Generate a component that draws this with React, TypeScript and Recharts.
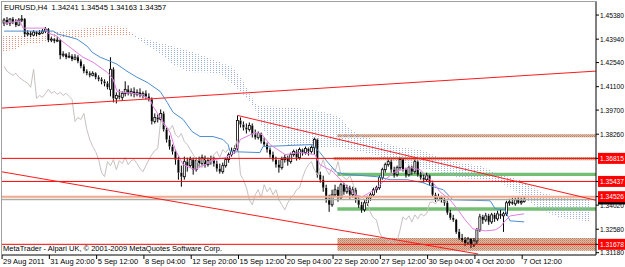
import React from "react";
import {
  ComposedChart,
  Bar,
  Line,
  Area,
  XAxis,
  YAxis,
  ReferenceLine,
  ReferenceArea,
} from "recharts";

// EURUSD H4, one entry per bar (bar 0 = 29 Aug 2011)
const open = [
  1.4490, 1.4508, 1.4490, 1.4514, 1.4496, 1.4478, 1.4508, 1.4514, 1.4424, 1.4430,
  1.4418, 1.4436, 1.4424, 1.4430, 1.4442, 1.4454, 1.4388, 1.4394, 1.4382, 1.4388,
  1.4298, 1.4304, 1.4286, 1.4292, 1.4274, 1.4286, 1.4262, 1.4232, 1.4202, 1.4190,
  1.4178, 1.4190, 1.4166, 1.4154, 1.4142, 1.4130, 1.4094, 1.4214, 1.4040, 1.4058,
  1.4046, 1.4070, 1.4094, 1.4070, 1.4082, 1.4064, 1.4076, 1.4058, 1.4070, 1.4052,
  1.4034, 1.3902, 1.3926, 1.3914, 1.3950, 1.3854, 1.3794, 1.3752, 1.3722, 1.3674,
  1.3596, 1.3572, 1.3662, 1.3638, 1.3674, 1.3614, 1.3668, 1.3650, 1.3686, 1.3644,
  1.3668, 1.3674, 1.3650, 1.3620, 1.3602, 1.3638, 1.3674, 1.3704, 1.3728, 1.3740,
  1.3908, 1.3884, 1.3866, 1.3854, 1.3878, 1.3824, 1.3806, 1.3830, 1.3782, 1.3764,
  1.3734, 1.3704, 1.3674, 1.3644, 1.3626, 1.3674, 1.3686, 1.3662, 1.3704, 1.3722,
  1.3686, 1.3734, 1.3716, 1.3740, 1.3722, 1.3746, 1.3794, 1.3584, 1.3554, 1.3506,
  1.3434, 1.3404, 1.3464, 1.3494, 1.3446, 1.3524, 1.3482, 1.3506, 1.3464, 1.3494,
  1.3434, 1.3404, 1.3374, 1.3416, 1.3446, 1.3464, 1.3494, 1.3506, 1.3566, 1.3614,
  1.3644, 1.3662, 1.3614, 1.3584, 1.3626, 1.3674, 1.3614, 1.3584, 1.3626, 1.3602,
  1.3662, 1.3584, 1.3566, 1.3554, 1.3578, 1.3536, 1.3464, 1.3434, 1.3452, 1.3434,
  1.3416, 1.3356, 1.3326, 1.3314, 1.3242, 1.3206, 1.3194, 1.3176, 1.3200, 1.3164,
  1.3188, 1.3254, 1.3332, 1.3314, 1.3338, 1.3302, 1.3344, 1.3320, 1.3350, 1.3338,
  1.3350, 1.3416, 1.3422, 1.3410, 1.3434, 1.3416, 1.34241,
];
const high = [
  1.4520, 1.4526, 1.4520, 1.4526, 1.4514, 1.4520, 1.4538, 1.4520, 1.4448, 1.4442,
  1.4448, 1.4442, 1.4448, 1.4454, 1.4466, 1.4460, 1.4406, 1.4400, 1.4406, 1.4394,
  1.4322, 1.4310, 1.4316, 1.4304, 1.4304, 1.4298, 1.4274, 1.4244, 1.4214, 1.4202,
  1.4202, 1.4196, 1.4178, 1.4166, 1.4154, 1.4142, 1.4286, 1.4226, 1.4076, 1.4094,
  1.4082, 1.4142, 1.4118, 1.4100, 1.4106, 1.4094, 1.4100, 1.4082, 1.4088, 1.4070,
  1.4046, 1.3950, 1.3944, 1.3974, 1.3962, 1.3866, 1.3818, 1.3764, 1.3734, 1.3692,
  1.3638, 1.3692, 1.3686, 1.3692, 1.3686, 1.3686, 1.3692, 1.3704, 1.3698, 1.3686,
  1.3698, 1.3692, 1.3668, 1.3650, 1.3656, 1.3686, 1.3716, 1.3746, 1.3758, 1.3938,
  1.3926, 1.3902, 1.3890, 1.3896, 1.3890, 1.3854, 1.3842, 1.3836, 1.3806, 1.3776,
  1.3746, 1.3722, 1.3692, 1.3674, 1.3692, 1.3704, 1.3698, 1.3716, 1.3734, 1.3734,
  1.3746, 1.3740, 1.3752, 1.3746, 1.3758, 1.3806, 1.3800, 1.3602, 1.3578, 1.3524,
  1.3464, 1.3494, 1.3524, 1.3512, 1.3536, 1.3536, 1.3524, 1.3518, 1.3512, 1.3506,
  1.3458, 1.3422, 1.3434, 1.3458, 1.3476, 1.3506, 1.3518, 1.3578, 1.3626, 1.3656,
  1.3674, 1.3674, 1.3632, 1.3638, 1.3686, 1.3680, 1.3626, 1.3638, 1.3638, 1.3674,
  1.3668, 1.3602, 1.3584, 1.3596, 1.3584, 1.3548, 1.3476, 1.3470, 1.3458, 1.3446,
  1.3428, 1.3374, 1.3344, 1.3320, 1.3260, 1.3230, 1.3212, 1.3212, 1.3206, 1.3206,
  1.3266, 1.3350, 1.3344, 1.3356, 1.3350, 1.3356, 1.3356, 1.3368, 1.3374, 1.3362,
  1.3428, 1.3440, 1.3446, 1.3446, 1.3452, 1.3446, 1.34545,
];
const low = [
  1.4472, 1.4478, 1.4472, 1.4484, 1.4466, 1.4472, 1.4496, 1.4406, 1.4412, 1.4406,
  1.4412, 1.4412, 1.4418, 1.4424, 1.4430, 1.4376, 1.4376, 1.4370, 1.4376, 1.4274,
  1.4286, 1.4274, 1.4280, 1.4262, 1.4268, 1.4250, 1.4220, 1.4190, 1.4178, 1.4166,
  1.4172, 1.4154, 1.4142, 1.4124, 1.4112, 1.4094, 1.4052, 1.4016, 1.4010, 1.4034,
  1.4028, 1.4052, 1.4058, 1.4052, 1.4046, 1.4052, 1.4046, 1.4040, 1.4034, 1.4022,
  1.3884, 1.3890, 1.3896, 1.3902, 1.3842, 1.3776, 1.3734, 1.3704, 1.3644, 1.3554,
  1.3512, 1.3554, 1.3602, 1.3626, 1.3584, 1.3602, 1.3632, 1.3638, 1.3626, 1.3632,
  1.3644, 1.3632, 1.3602, 1.3590, 1.3590, 1.3626, 1.3656, 1.3692, 1.3710, 1.3728,
  1.3866, 1.3848, 1.3830, 1.3842, 1.3806, 1.3794, 1.3794, 1.3770, 1.3752, 1.3716,
  1.3686, 1.3662, 1.3626, 1.3596, 1.3614, 1.3656, 1.3638, 1.3650, 1.3692, 1.3668,
  1.3674, 1.3698, 1.3704, 1.3698, 1.3710, 1.3704, 1.3566, 1.3536, 1.3482, 1.3416,
  1.3362, 1.3392, 1.3452, 1.3422, 1.3434, 1.3464, 1.3470, 1.3440, 1.3446, 1.3416,
  1.3386, 1.3356, 1.3362, 1.3398, 1.3428, 1.3452, 1.3476, 1.3494, 1.3554, 1.3596,
  1.3632, 1.3596, 1.3566, 1.3572, 1.3614, 1.3602, 1.3566, 1.3572, 1.3584, 1.3590,
  1.3572, 1.3554, 1.3536, 1.3542, 1.3518, 1.3452, 1.3422, 1.3428, 1.3416, 1.3398,
  1.3344, 1.3314, 1.3302, 1.3230, 1.3194, 1.3182, 1.3158, 1.3164, 1.3146, 1.3152,
  1.3170, 1.3242, 1.3290, 1.3302, 1.3284, 1.3290, 1.3302, 1.3308, 1.3320, 1.3242,
  1.3338, 1.3398, 1.3404, 1.3398, 1.3410, 1.3404, 1.34163,
];
const close = [
  1.4508, 1.4490, 1.4514, 1.4496, 1.4478, 1.4508, 1.4514, 1.4424, 1.4430, 1.4418,
  1.4436, 1.4424, 1.4430, 1.4442, 1.4454, 1.4388, 1.4394, 1.4382, 1.4388, 1.4298,
  1.4304, 1.4286, 1.4292, 1.4274, 1.4286, 1.4262, 1.4232, 1.4202, 1.4190, 1.4178,
  1.4190, 1.4166, 1.4154, 1.4142, 1.4130, 1.4106, 1.4214, 1.4040, 1.4058, 1.4046,
  1.4070, 1.4094, 1.4070, 1.4082, 1.4064, 1.4076, 1.4058, 1.4070, 1.4052, 1.4034,
  1.3902, 1.3926, 1.3914, 1.3950, 1.3854, 1.3794, 1.3752, 1.3722, 1.3674, 1.3596,
  1.3572, 1.3662, 1.3638, 1.3674, 1.3614, 1.3668, 1.3650, 1.3686, 1.3644, 1.3668,
  1.3674, 1.3650, 1.3620, 1.3602, 1.3638, 1.3674, 1.3704, 1.3728, 1.3740, 1.3908,
  1.3884, 1.3866, 1.3854, 1.3878, 1.3824, 1.3806, 1.3830, 1.3782, 1.3764, 1.3734,
  1.3704, 1.3674, 1.3644, 1.3626, 1.3674, 1.3686, 1.3662, 1.3704, 1.3722, 1.3686,
  1.3734, 1.3716, 1.3740, 1.3722, 1.3746, 1.3794, 1.3584, 1.3554, 1.3506, 1.3434,
  1.3404, 1.3464, 1.3494, 1.3446, 1.3524, 1.3482, 1.3506, 1.3464, 1.3494, 1.3434,
  1.3404, 1.3374, 1.3416, 1.3446, 1.3464, 1.3494, 1.3506, 1.3566, 1.3614, 1.3644,
  1.3662, 1.3614, 1.3584, 1.3626, 1.3674, 1.3614, 1.3584, 1.3626, 1.3602, 1.3662,
  1.3584, 1.3566, 1.3554, 1.3578, 1.3536, 1.3464, 1.3434, 1.3452, 1.3434, 1.3416,
  1.3356, 1.3326, 1.3314, 1.3242, 1.3206, 1.3194, 1.3176, 1.3200, 1.3164, 1.3188,
  1.3254, 1.3332, 1.3314, 1.3338, 1.3302, 1.3344, 1.3320, 1.3350, 1.3338, 1.3350,
  1.3416, 1.3422, 1.3410, 1.3434, 1.3416, 1.3424, 1.34357,
];

// Chikou span, bars 0..150
const chikou = [
  1.4232, 1.4202, 1.4190, 1.4178, 1.4190, 1.4166, 1.4154, 1.4142, 1.4130, 1.4106,
  1.4214, 1.4040, 1.4058, 1.4046, 1.4070, 1.4094, 1.4070, 1.4082, 1.4064, 1.4076,
  1.4058, 1.4070, 1.4052, 1.4034, 1.3902, 1.3926, 1.3914, 1.3950, 1.3854, 1.3794,
  1.3752, 1.3722, 1.3674, 1.3596, 1.3572, 1.3662, 1.3638, 1.3674, 1.3614, 1.3668,
  1.3650, 1.3686, 1.3644, 1.3668, 1.3674, 1.3650, 1.3620, 1.3602, 1.3638, 1.3674,
  1.3704, 1.3728, 1.3740, 1.3908, 1.3884, 1.3866, 1.3854, 1.3878, 1.3824, 1.3806,
  1.3830, 1.3782, 1.3764, 1.3734, 1.3704, 1.3674, 1.3644, 1.3626, 1.3674, 1.3686,
  1.3662, 1.3704, 1.3722, 1.3686, 1.3734, 1.3716, 1.3740, 1.3722, 1.3746, 1.3794,
  1.3584, 1.3554, 1.3506, 1.3434, 1.3404, 1.3464, 1.3494, 1.3446, 1.3524, 1.3482,
  1.3506, 1.3464, 1.3494, 1.3434, 1.3404, 1.3374, 1.3416, 1.3446, 1.3464, 1.3494,
  1.3506, 1.3566, 1.3614, 1.3644, 1.3662, 1.3614, 1.3584, 1.3626, 1.3674, 1.3614,
  1.3584, 1.3626, 1.3602, 1.3662, 1.3584, 1.3566, 1.3554, 1.3578, 1.3536, 1.3464,
  1.3434, 1.3452, 1.3434, 1.3416, 1.3356, 1.3326, 1.3314, 1.3242, 1.3206, 1.3194,
  1.3176, 1.3200, 1.3164, 1.3188, 1.3254, 1.3332, 1.3314, 1.3338, 1.3302, 1.3344,
  1.3320, 1.3350, 1.3338, 1.3350, 1.3416, 1.3422, 1.3410, 1.3434, 1.3416, 1.3424,
  1.34357,
];

// [bar, price] vertices
const tenkan = [
  [0, 1.4490], [5.4, 1.4502], [6.4, 1.4460], [13.9, 1.4460], [14.9, 1.4430], [17.9, 1.4412],
  [19.6, 1.4382], [22.3, 1.4346], [26.7, 1.4286], [30.1, 1.4256], [34.9, 1.4196], [36.9, 1.4154],
  [38.2, 1.4082], [46, 1.4064], [49.4, 1.4034], [50.4, 1.3992], [56.2, 1.3836], [57.9, 1.3734],
  [60.6, 1.3644], [64.6, 1.3614], [68, 1.3644], [71.4, 1.3674], [74.8, 1.3686], [78.2, 1.3716],
  [79.9, 1.3794], [84.9, 1.3836], [87.3, 1.3824], [90, 1.3764], [95.1, 1.3704], [100.2, 1.3716],
  [105.2, 1.3704], [106.9, 1.3644], [111.3, 1.3602], [115.4, 1.3524], [118.8, 1.3464], [121.2, 1.3452],
  [125.5, 1.3494], [128.9, 1.3554], [132.3, 1.3602], [137.4, 1.3626], [140.8, 1.3614], [145.2, 1.3536],
  [147.5, 1.3482], [150.9, 1.3434], [153.6, 1.3374], [156, 1.3314], [158.7, 1.3260], [162.8, 1.3248],
  [166.2, 1.3254], [167.9, 1.3272], [169.5, 1.3308], [171.3, 1.3338], [176, 1.3350],
];
const kijun = [
  [0, 1.4442], [16.6, 1.4442], [18.3, 1.4424], [22.3, 1.4406], [24.7, 1.4394], [28.1, 1.4352],
  [29.8, 1.4316], [32.5, 1.4286], [35.9, 1.4262], [38.2, 1.4244], [41.6, 1.4202], [45, 1.4166],
  [48.4, 1.4136], [52.8, 1.4082], [55.2, 1.4016], [57.2, 1.3956], [60.6, 1.3914], [63.6, 1.3842],
  [66.3, 1.3812], [70.7, 1.3812], [74.1, 1.3794], [75.8, 1.3764], [76.5, 1.3722], [86.6, 1.3716],
  [87.6, 1.3752], [104.2, 1.3764], [106.9, 1.3716], [109.6, 1.3656], [112.7, 1.3596], [117.1, 1.3584],
  [126.2, 1.3572], [130.6, 1.3554], [136.4, 1.3554], [141.8, 1.3536], [145.2, 1.3512], [148.6, 1.3494],
  [151.9, 1.3434], [164.5, 1.3428], [166.2, 1.3380], [169.5, 1.3374], [171.2, 1.3308], [176, 1.3302],
];
// cloud: [bar, span A, span B]
const cloudBull = [
  [-0.7, 1.4418, 1.4316], [3.7, 1.4418, 1.4334], [7.1, 1.4412, 1.4364], [12.2, 1.4412, 1.4370],
  [15.6, 1.4430, 1.4394], [19, 1.4442, 1.4406], [25.7, 1.4454, 1.4406], [30.8, 1.4466, 1.4412],
  [35.9, 1.4472, 1.4418], [40.9, 1.4466, 1.4418], [43.7, 1.4424, 1.4412],
];
const cloudBear = [
  [43.7, 1.4412, 1.4418], [46, 1.4382, 1.4406], [51.8, 1.4322, 1.4376], [57.2, 1.4244, 1.4352],
  [62.9, 1.4196, 1.4322], [68.7, 1.4196, 1.4286], [73.1, 1.4184, 1.4256], [77.5, 1.4124, 1.4226],
  [80.9, 1.4064, 1.4142], [83.2, 1.4022, 1.4064], [85.3, 1.3962, 1.4004], [87.3, 1.3866, 1.3992],
  [90, 1.3794, 1.3992], [96.8, 1.3758, 1.3986], [103.6, 1.3752, 1.3974], [110.3, 1.3746, 1.3950],
  [113.7, 1.3746, 1.3926], [117.1, 1.3734, 1.3854], [122.2, 1.3716, 1.3812], [127.2, 1.3692, 1.3782],
  [134, 1.3656, 1.3746], [140.8, 1.3626, 1.3734], [147.5, 1.3596, 1.3686], [154.3, 1.3566, 1.3656],
  [161.1, 1.3554, 1.3638], [167.9, 1.3542, 1.3584], [174.6, 1.3464, 1.3554], [181.4, 1.3374, 1.3482],
  [188.2, 1.3326, 1.3446], [198.3, 1.3302, 1.3434],
];

// trend lines: [[bar, price], [bar, price]]
const trendLines = [
  [[-0.7, 1.3982], [200.3, 1.4203]],
  [[79, 1.3938], [200.3, 1.3431]],
  [[-0.7, 1.3601], [160.4, 1.311]],
];
const redLevels = [1.36815, 1.35437, 1.31678];
const salmonLevel = 1.34526;
const bid = 1.34357;
// zones: [from bar, lower price, upper price]
const brownZones = [
  [112.8, 1.3808, 1.3826],
  [111.5, 1.3671, 1.369],
  [112.8, 1.313, 1.3205],
];
const greenZones = [
  [112.8, 1.3576, 1.3595],
  [112.8, 1.3368, 1.339],
];

const dateTicks = [0, 16, 32, 48, 64, 80, 96, 112, 128, 144, 160, 176];
const dateLabels = [
  "29 Aug 2011", "31 Aug 20:00", "5 Sep 12:00", "8 Sep 04:00", "12 Sep 20:00", "15 Sep 12:00",
  "20 Sep 04:00", "22 Sep 20:00", "27 Sep 12:00", "30 Sep 04:00", "4 Oct 20:00", "7 Oct 12:00",
];
const priceTicks = [
  bid, 1.4538, 1.4394, 1.4254, 1.411, 1.397, 1.3826, 1.36815, 1.35437, 1.34526, 1.3402, 1.3258,
  1.31678, 1.3118,
];
const boxedLevels = [1.36815, 1.35437, 1.34526, 1.31678];

const X_DOMAIN = [-0.7, 200.3];
const Y_DOMAIN = [1.3104, 1.4616];
const FONT = "'Liberation Sans', Arial, sans-serif";

const candles = open.map((o, i) => ({ i, o, h: high[i], l: low[i], c: close[i] }));
const pts = (arr: number[][]) => arr.map(([i, v]) => ({ i, v }));
const bullPts = cloudBull.map(([i, a, b]) => ({ i, lo: b, hi: a }));
const bearPts = cloudBear.map(([i, a, b]) => ({ i, lo: a, hi: b }));

function Candle(props: any) {
  const { x, y, width, height, payload } = props;
  if (!payload || x == null || y == null) return null;
  const top = Math.min(y, y + height);
  const full = Math.abs(height);
  const { o, h, l, c } = payload;
  const k = full / (h - l || 1);
  const yo = top + (h - o) * k;
  const yc = top + (h - c) * k;
  const cx = x + width / 2;
  const bTop = Math.min(yo, yc);
  const bBot = Math.max(bTop + 1, Math.max(yo, yc));
  const up = c > o;
  return (
    <g>
      <line x1={cx} x2={cx} y1={top} y2={bTop} stroke="#000" />
      <line x1={cx} x2={cx} y1={bBot} y2={top + full} stroke="#000" />
      <rect
        x={cx - 1}
        y={bTop}
        width={2}
        height={bBot - bTop}
        fill={up ? "#fff" : "#000"}
        stroke="#000"
        strokeWidth={up ? 0.8 : 0}
      />
    </g>
  );
}

function PriceTick(props: any) {
  const { x, y, payload } = props;
  const v = payload.value;
  if (v === bid) return <rect x={x + 2} y={y - 5} width={30} height={10} fill="#000" />;
  const boxed = boxedLevels.includes(v);
  return (
    <g>
      <line x1={x} x2={x + 3} y1={y} y2={y} stroke="#000" />
      {boxed && <rect x={x + 2} y={y - 5.5} width={30} height={11} fill="#ff0000" />}
      <text
        x={x + 4}
        y={y + 2.6}
        fontSize={7.2}
        fontFamily={FONT}
        fill={boxed ? "#fff" : "#000"}
        textLength={24}
        lengthAdjust="spacingAndGlyphs"
      >
        {v.toFixed(5)}
      </text>
    </g>
  );
}

function DateTick(props: any) {
  const { x, y, payload } = props;
  const idx = dateTicks.indexOf(payload.value);
  return (
    <g>
      <line x1={x - 2} x2={x - 2} y1={y} y2={y + 4} stroke="#000" />
      <text x={x - 1} y={y + 9} fontSize={7.5} fontFamily={FONT} fill="#000">
        {dateLabels[idx]}
      </text>
    </g>
  );
}

export default function App() {
  return (
    <div style={{ position: "relative", width: 625, height: 267, background: "#fff" }}>
      <style>{"body{margin:0}"}</style>
      <svg width={0} height={0} style={{ position: "absolute" }}>
        <defs>
          <pattern id="dotBear" width="3" height="2" patternUnits="userSpaceOnUse">
            <rect x="0" y="0" width="1" height="1" fill="#9fb1d4" />
          </pattern>
          <pattern id="dotBull" width="3" height="2" patternUnits="userSpaceOnUse">
            <rect x="0" y="0" width="1" height="1" fill="#de937f" />
          </pattern>
          <pattern id="brownHatch" width="2" height="2" patternUnits="userSpaceOnUse">
            <rect x="0" y="0" width="2" height="2" fill="#e3bba5" />
            <rect x="0" y="0" width="1" height="1" fill="#b9805f" />
            <rect x="1" y="1" width="1" height="1" fill="#c9957a" />
          </pattern>
        </defs>
      </svg>
      <ComposedChart
        width={625}
        height={267}
        data={candles}
        margin={{ top: 2, right: 0, bottom: 0, left: 2 }}
        barGap={0}
        barCategoryGap={0}
      >
        <XAxis
          dataKey="i"
          type="number"
          domain={X_DOMAIN}
          allowDataOverflow
          ticks={dateTicks}
          interval={0}
          height={12}
          tickLine={false}
          tickSize={0}
          tickMargin={0}
          axisLine={{ stroke: "#000" }}
          tick={<DateTick />}
        />
        <YAxis
          orientation="right"
          type="number"
          domain={Y_DOMAIN}
          allowDataOverflow
          ticks={priceTicks}
          interval={0}
          width={29}
          tickLine={false}
          tickSize={0}
          tickMargin={0}
          axisLine={{ stroke: "#000" }}
          tick={<PriceTick />}
        />

        {brownZones.map(([from, lo, hi], n) => (
          <ReferenceArea
            key={`bz${n}`}
            x1={from}
            x2={X_DOMAIN[1]}
            y1={lo}
            y2={hi}
            fill="url(#brownHatch)"
            fillOpacity={1}
            strokeWidth={0}
          />
        ))}
        {greenZones.map(([from, lo, hi], n) => (
          <ReferenceArea
            key={`gz${n}`}
            x1={from}
            x2={X_DOMAIN[1]}
            y1={lo}
            y2={hi}
            fill="#74bf74"
            fillOpacity={1}
            strokeWidth={0}
          />
        ))}

        <Area
          data={bullPts}
          dataKey={(d: any) => [d.lo, d.hi]}
          type="linear"
          stroke="none"
          fill="url(#dotBull)"
          fillOpacity={1}
          isAnimationActive={false}
        />
        <Area
          data={bearPts}
          dataKey={(d: any) => [d.lo, d.hi]}
          type="linear"
          stroke="none"
          fill="url(#dotBear)"
          fillOpacity={1}
          isAnimationActive={false}
        />

        <Line
          data={chikou.map((v, i) => ({ i, v }))}
          dataKey="v"
          type="linear"
          stroke="#c9c0c0"
          strokeWidth={1}
          dot={false}
          isAnimationActive={false}
        />
        <Line
          data={pts(kijun)}
          dataKey="v"
          type="linear"
          stroke="#4d8ed0"
          strokeWidth={1}
          dot={false}
          isAnimationActive={false}
        />
        <Line
          data={pts(tenkan)}
          dataKey="v"
          type="linear"
          stroke="#e47ee4"
          strokeWidth={1}
          dot={false}
          isAnimationActive={false}
        />

        <ReferenceLine y={salmonLevel} stroke="#f2a88e" strokeWidth={2} />
        <ReferenceLine y={bid} stroke="#adad9f" strokeWidth={1.5} />
        {redLevels.map((v) => (
          <ReferenceLine key={`rl${v}`} y={v} stroke="#ff0000" strokeWidth={1} />
        ))}
        {trendLines.map(([a, b], n) => (
          <ReferenceLine
            key={`tl${n}`}
            segment={[
              { x: a[0], y: a[1] },
              { x: b[0], y: b[1] },
            ]}
            stroke="#ff1a1a"
            strokeWidth={1}
            ifOverflow="hidden"
          />
        ))}

        <Bar
          dataKey={(d: any) => [d.l, d.h]}
          barSize={3}
          shape={<Candle />}
          isAnimationActive={false}
        />
      </ComposedChart>
      <svg
        width={625}
        height={267}
        style={{ position: "absolute", left: 0, top: 0, pointerEvents: "none" }}
      >
        <line x1={1.5} x2={1.5} y1={1} y2={255} stroke="#a0a0a0" />
        <line x1={1} x2={597} y1={1.5} y2={1.5} stroke="#a0a0a0" />
        <text x={4} y={9.5} fontSize={7.5} fontFamily={FONT} fill="#000" style={{ whiteSpace: "pre" }}>
          {"EURUSD,H4  1.34241 1.34545 1.34163 1.34357"}
        </text>
        <text x={3} y={250.5} fontSize={7.5} fontFamily={FONT} fill="#000">
          MetaTrader - Alpari UK, © 2001-2009 MetaQuotes Software Corp.
        </text>
      </svg>
    </div>
  );
}
